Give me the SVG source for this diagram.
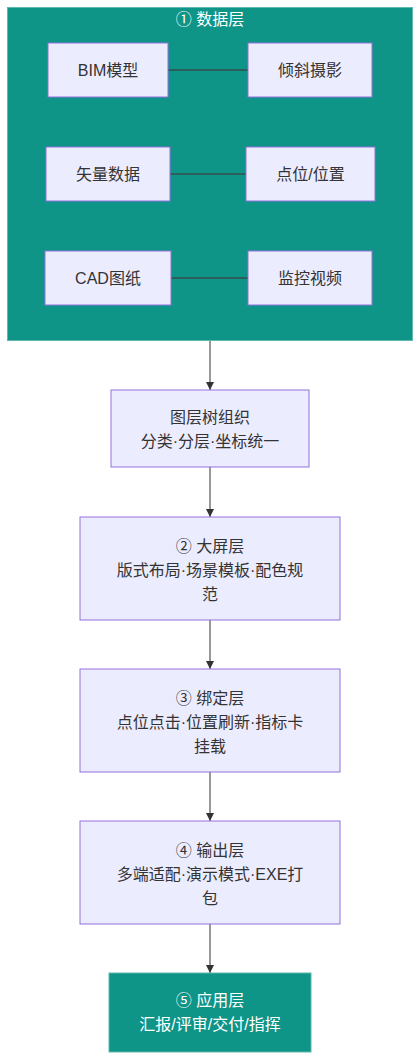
<svg xmlns="http://www.w3.org/2000/svg" width="420" height="1060" viewBox="0 0 420 1060">
<style>
text{font-family:"Liberation Sans","Noto Sans CJK SC",sans-serif;font-size:16px;text-anchor:middle;fill:#333}
.n{fill:#ECECFF;stroke:#9370DB;stroke-width:1}
.t{fill:#0f9488;stroke:#5fb8ae;stroke-width:1}
.w{fill:#ffffff}
.lk{stroke:#2a5f5a;stroke-width:2;fill:none}
.ar{stroke:#333;stroke-width:1;fill:none;marker-end:url(#ah)}
</style>
<defs>
<marker id="ah" viewBox="0 0 10 10" refX="10" refY="5" markerWidth="8" markerHeight="8" orient="auto" markerUnits="userSpaceOnUse">
<path d="M0,0 L10,5 L0,10 z" fill="#333"/>
</marker>
</defs>
<g id="cluster-data">
<rect class="t" x="7.5" y="7.5" width="405" height="333"/>
<text class="w" x="210" y="25">① 数据层</text>
</g>
<g id="connectors">
<line class="lk" x1="168" y1="70" x2="248" y2="70"/>
<line class="lk" x1="170" y1="174" x2="246" y2="174"/>
<line class="lk" x1="171" y1="278" x2="248" y2="278"/>
<line class="ar" x1="210" y1="341" x2="210" y2="390"/>
<line class="ar" x1="210" y1="467" x2="210" y2="517"/>
<line class="ar" x1="210" y1="620" x2="210" y2="669"/>
<line class="ar" x1="210" y1="772" x2="210" y2="821"/>
<line class="ar" x1="210" y1="924" x2="210" y2="973"/>
</g>
<g id="bim"><rect class="n" x="48" y="43" width="120" height="54"/><text x="108" y="76">BIM模型</text></g>
<g id="oblique"><rect class="n" x="248" y="43" width="124" height="54"/><text x="310" y="76">倾斜摄影</text></g>
<g id="vector"><rect class="n" x="46" y="147" width="124" height="54"/><text x="108" y="180">矢量数据</text></g>
<g id="point"><rect class="n" x="246" y="147" width="129" height="54"/><text x="310.5" y="180">点位/位置</text></g>
<g id="cad"><rect class="n" x="45" y="251" width="126" height="54"/><text x="108" y="284">CAD图纸</text></g>
<g id="video"><rect class="n" x="248" y="251" width="124" height="54"/><text x="310" y="284">监控视频</text></g>
<g id="tree"><rect class="n" x="111" y="390" width="198" height="77"/><text x="210" y="423">图层树组织</text><text x="210" y="447">分类·分层·坐标统一</text></g>
<g id="screen"><rect class="n" x="80" y="517" width="260" height="103"/><text x="210" y="552">② 大屏层</text><text x="210" y="576">版式布局·场景模板·配色规</text><text x="210" y="600">范</text></g>
<g id="bind"><rect class="n" x="80" y="669" width="260" height="103"/><text x="210" y="704">③ 绑定层</text><text x="210" y="728">点位点击·位置刷新·指标卡</text><text x="210" y="752">挂载</text></g>
<g id="output"><rect class="n" x="80" y="821" width="260" height="103"/><text x="210" y="856">④ 输出层</text><text x="210" y="880">多端适配·演示模式·EXE打</text><text x="210" y="904">包</text></g>
<g id="app"><rect class="t" x="109" y="973" width="202" height="79"/><text class="w" x="210" y="1006">⑤ 应用层</text><text class="w" x="210" y="1030">汇报/评审/交付/指挥</text></g>
</svg>
